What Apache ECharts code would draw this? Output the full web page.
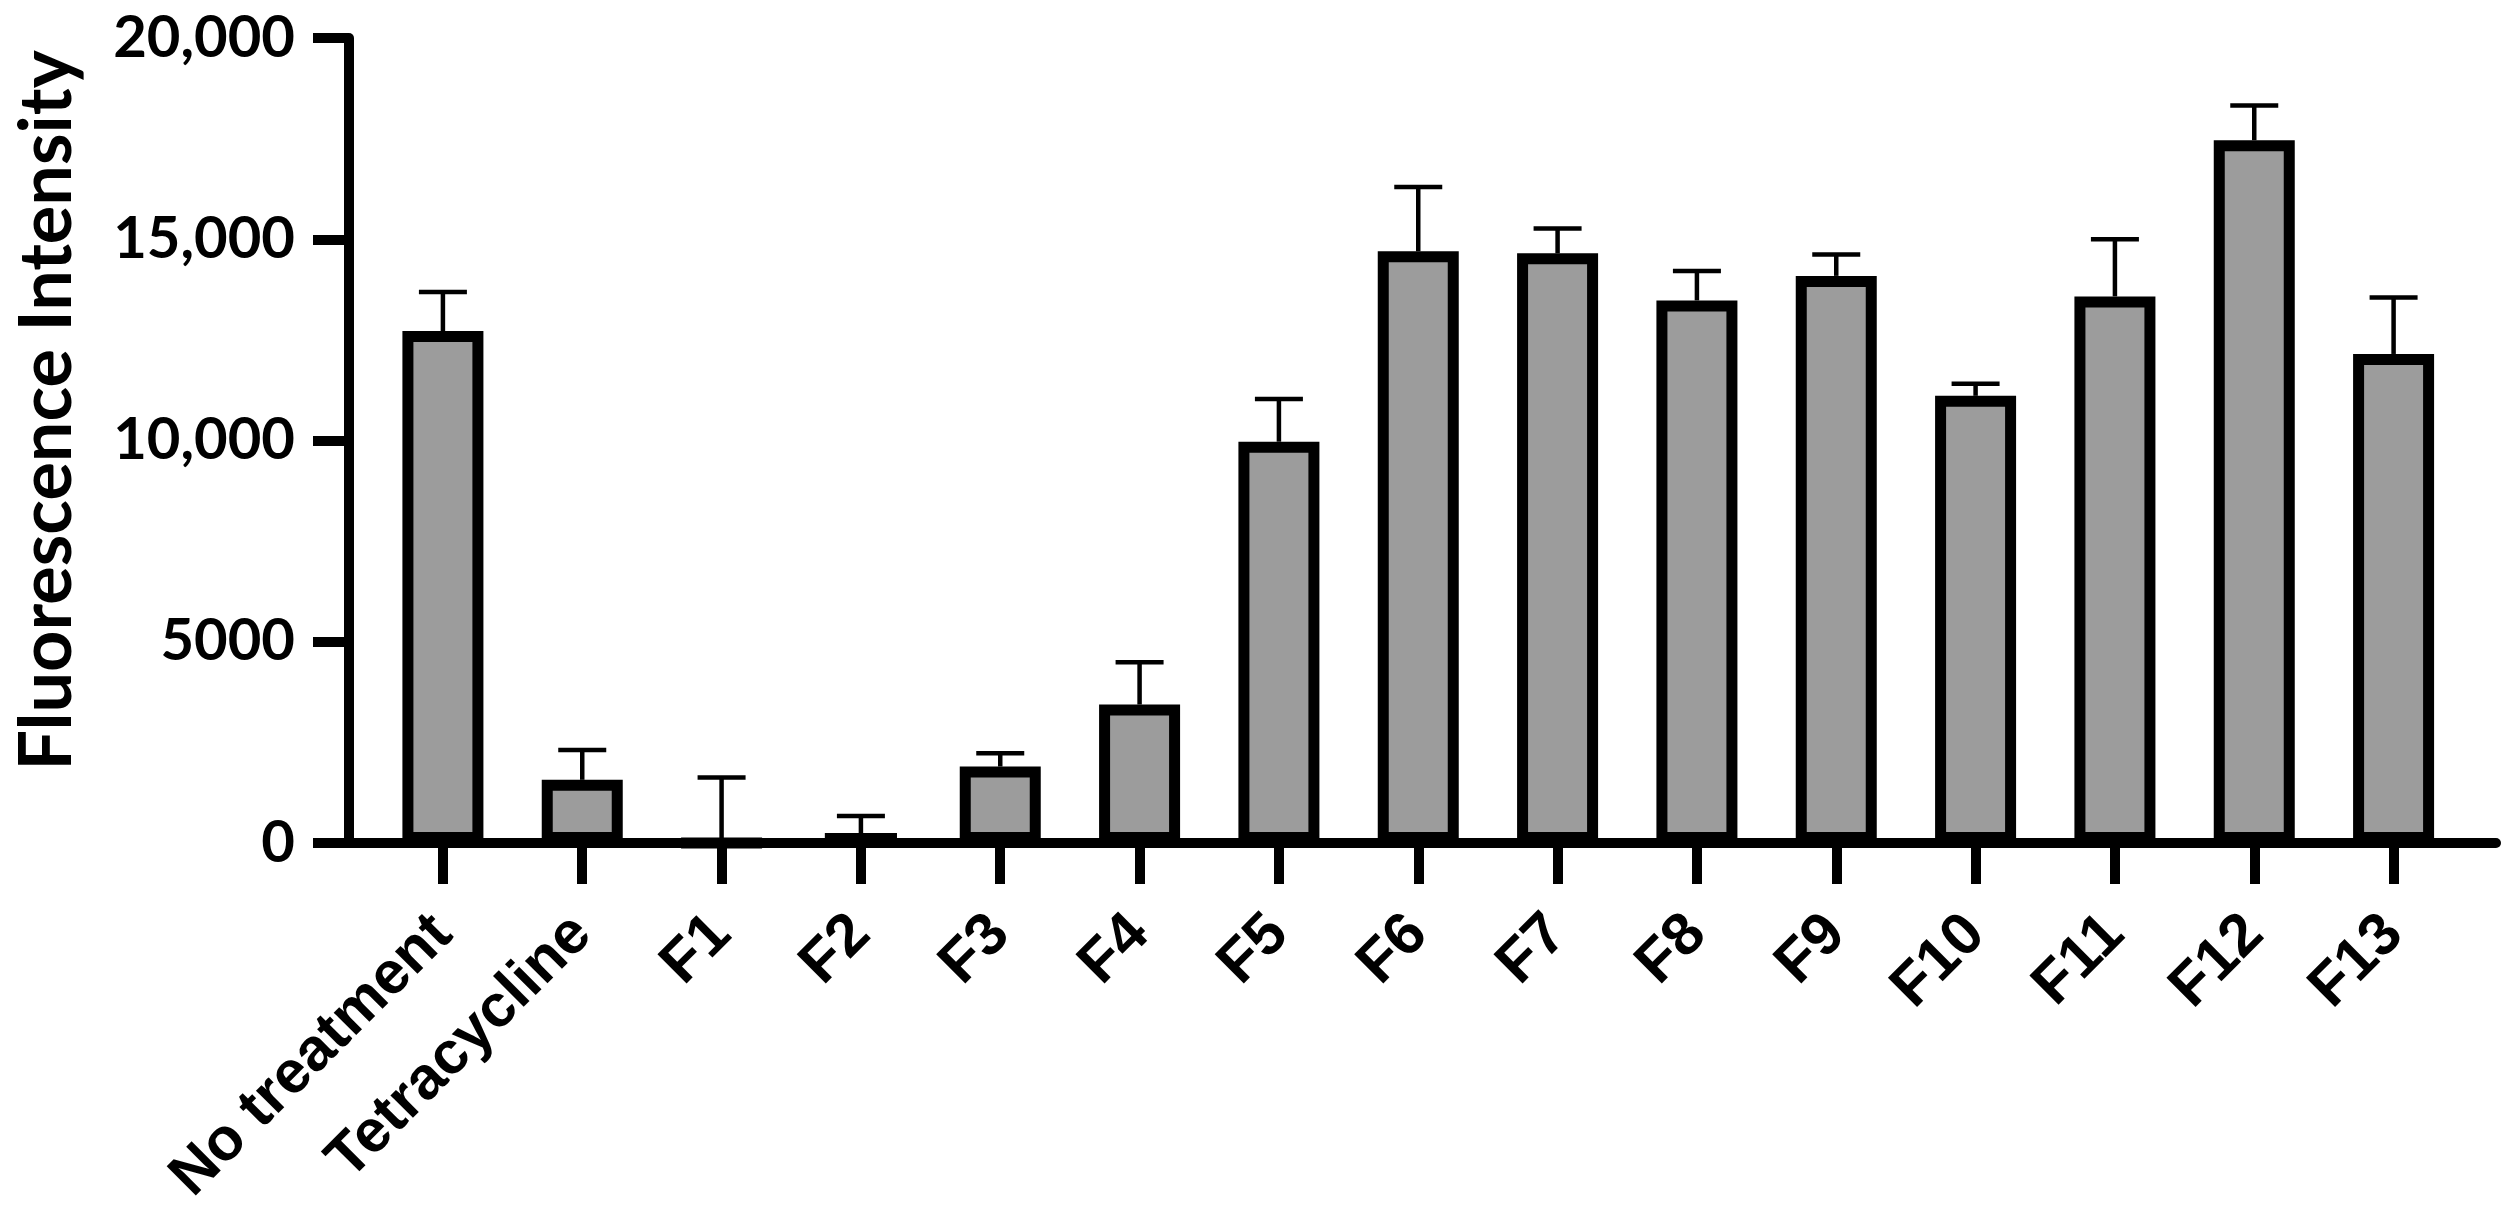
<!DOCTYPE html>
<html>
<head>
	<meta charset="utf-8">
	<title>Fluorescence Intensity</title>
	<style>
		html, body { margin: 0; padding: 0; background: #fff; }
		#chart1 { width: 2508px; height: 1214px; }
	</style>
</head>
<body>
	<div id="chart1"></div>

	<script src="https://cdn.jsdelivr.net/npm/echarts@6/dist/echarts.min.js"></script>
	<script type="text/javascript">

    // values
    var groups = ['No treatment', 'Tetracycline', 'F1', 'F2', 'F3', 'F4', 'F5',
                  'F6', 'F7', 'F8', 'F9', 'F10', 'F11', 'F12', 'F13'];
    var means = [12720, 1570, 0, 220, 1900, 3440, 9970,
                 14700, 14650, 13480, 14090, 11110, 13580, 17460, 12150];
    var errors = [970, 740, 1630, 450, 330, 1050, 1060,
                  1600, 620, 730, 530, 300, 1420, 860, 1400];
    var yTicks = [0, 5000, 10000, 15000, 20000];

    var positions = [], barData = [], errData = [];
    for (var i = 0; i < groups.length; i++) {
        positions.push(i);
        barData.push([i, means[i]]);
        errData.push([i, means[i], means[i] + errors[i]]);
    }

    function tickText(v) {
        if (v >= 10000) {
            return String(v).replace(/\B(?=(\d{3})+(?!\d))/g, ',');
        }
        return String(v);
    }

    // SD bar, upper side only
    function errorBar(params, api) {
        var x = api.value(0);
        var base = api.coord([x, api.value(1)]);
        var top = api.coord([x, api.value(2)]);
        var half = 24;
        var style = {stroke: '#000', lineWidth: 4.5};
        return {
            type: 'group',
            children: [
                {type: 'line', shape: {x1: base[0], y1: base[1], x2: top[0], y2: top[1]}, style: style},
                {type: 'line', shape: {x1: top[0] - half, y1: top[1], x2: top[0] + half, y2: top[1]}, style: style}
            ]
        };
    }

    var myChart = echarts.init(document.getElementById('chart1'));
    var option = {
        animation: false,
        grid: {left: 349, right: 12, top: 38, bottom: 371, containLabel: false},
        xAxis: {
            type: 'value',
            min: -0.674,
            max: 14.735,
            splitLine: {show: false},
            axisLine: {show: true, lineStyle: {color: '#000', width: 10}},
            axisTick: {show: true, customValues: positions, length: 41,
                       lineStyle: {color: '#000', width: 10}},
            axisLabel: {
                customValues: positions,
                rotate: 45,
                margin: 82,
                color: '#000',
                fontFamily: 'Liberation Sans',
                fontWeight: 'bold',
                fontSize: 60,
                formatter: function (v) { return groups[Math.round(v)]; }
            }
        },
        yAxis: {
            type: 'value',
            min: 0,
            max: 20000,
            interval: 5000,
            name: 'Fluorescence Intensity',
            nameLocation: 'middle',
            nameGap: 265,
            nameTextStyle: {color: '#000', fontFamily: 'Lato', fontWeight: 'bold', fontSize: 72,
                            padding: [0, 0, 0, 60]},
            splitLine: {show: false},
            axisLine: {show: true, onZero: false, lineStyle: {color: '#000', width: 10}},
            axisTick: {show: true, length: 36, lineStyle: {color: '#000', width: 10}},
            axisLabel: {
                margin: 54,
                color: '#000',
                fontFamily: 'Lato',
                fontWeight: 'bold',
                fontSize: 58,
                customValues: yTicks,
                formatter: tickText
            }
        },
        series: [
            {
                type: 'bar',
                data: barData,
                barWidth: 81,
                itemStyle: {color: '#9c9c9c', borderColor: '#000', borderWidth: 11},
                z: 2
            },
            {
                type: 'custom',
                data: errData,
                encode: {x: 0, y: [1, 2]},
                renderItem: errorBar,
                z: 3
            }
        ]
    };
    myChart.setOption(option, true);

	</script>
</body>
</html>
